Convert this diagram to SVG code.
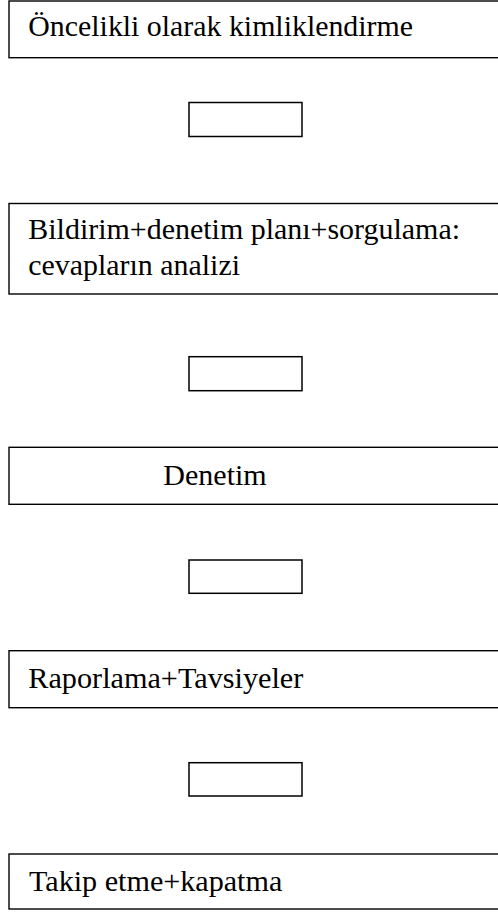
<svg xmlns="http://www.w3.org/2000/svg" width="498" height="913" viewBox="0 0 498 913">
<style>
.box{fill:#fff;stroke:#000;stroke-width:1.4}
.conn{fill:#fff;stroke:#000;stroke-width:1.5}
.t{font-family:"Liberation Serif","Times New Roman",serif;font-size:29.5px;fill:#000}
</style>
<rect width="498" height="913" fill="#fff"/>
<g id="n1"><rect class="box" x="9" y="1" width="500" height="56.7"/><text class="t" x="28.3" y="36" textLength="384.7" lengthAdjust="spacingAndGlyphs">Öncelikli olarak kimliklendirme</text></g>
<g id="connectors">
<rect class="conn" x="189" y="102.5" width="113" height="34"/>
<rect class="conn" x="189" y="356.7" width="113" height="34"/>
<rect class="conn" x="189" y="560" width="113" height="33.3"/>
<rect class="conn" x="189" y="762.7" width="113" height="33.3"/>
</g>
<g id="n2"><rect class="box" x="9" y="203.5" width="500" height="90.5"/><text class="t" x="28.3" y="239.3" textLength="431.7" lengthAdjust="spacingAndGlyphs">Bildirim+denetim planı+sorgulama:</text><text class="t" x="28.3" y="275" textLength="211.7" lengthAdjust="spacingAndGlyphs">cevapların analizi</text></g>
<g id="n3"><rect class="box" x="9" y="447.3" width="500" height="57"/><text class="t" x="163.3" y="485" textLength="103.4" lengthAdjust="spacingAndGlyphs">Denetim</text></g>
<g id="n4"><rect class="box" x="9" y="650.7" width="500" height="57"/><text class="t" x="28.3" y="688.3" textLength="275" lengthAdjust="spacingAndGlyphs">Raporlama+Tavsiyeler</text></g>
<g id="n5"><rect class="box" x="9" y="854" width="500" height="55"/><text class="t" x="29" y="890.7" textLength="253.3" lengthAdjust="spacingAndGlyphs">Takip etme+kapatma</text></g>
</svg>
